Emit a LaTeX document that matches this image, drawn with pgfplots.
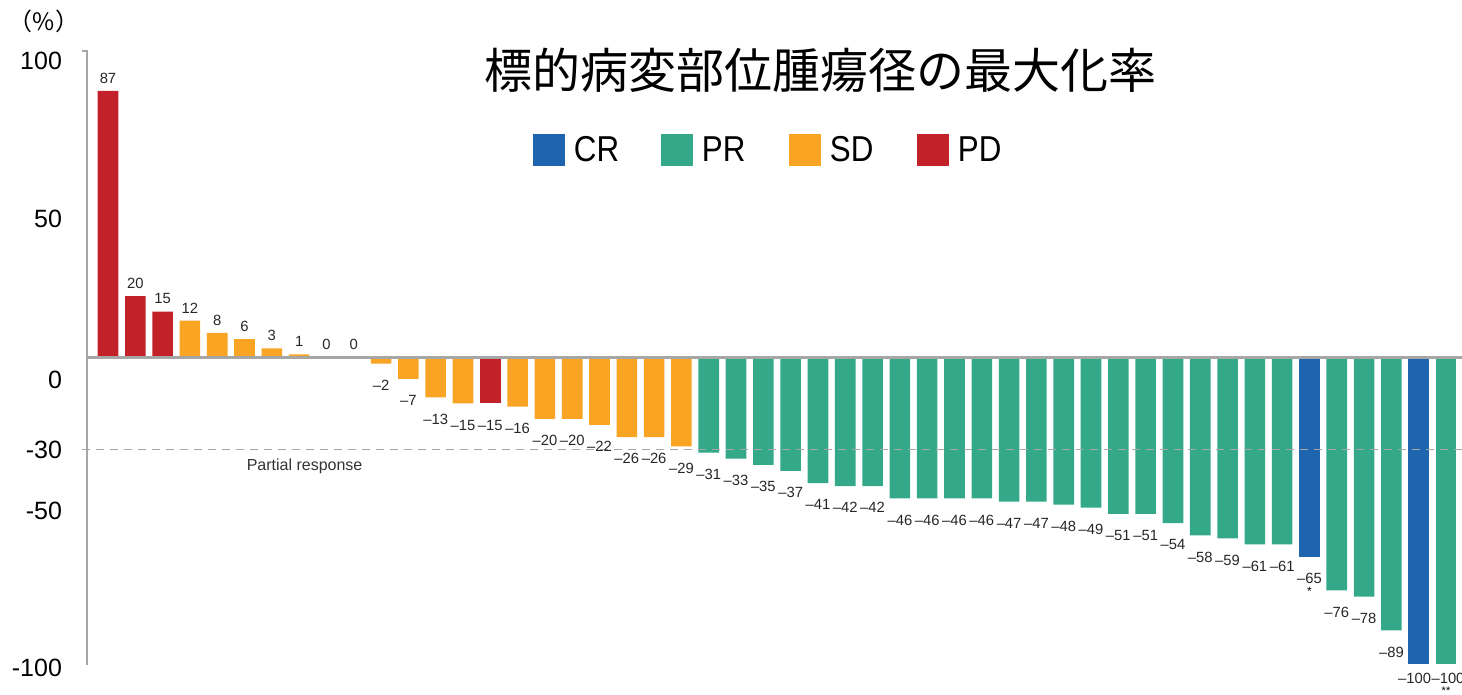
\documentclass[border=0pt]{standalone}
\usepackage{pgfplots}
\pgfplotsset{compat=1.18}
\usepackage{fontspec}
\setmainfont{Liberation Sans}
\newfontfamily\cjk{Noto Sans CJK JP}
\newfontfamily\legfont[FakeStretch=0.87]{Liberation Sans}
\definecolor{crcol}{HTML}{1F64AF}
\definecolor{prcol}{HTML}{33A98A}
\definecolor{sdcol}{HTML}{F9A423}
\definecolor{pdcol}{HTML}{C3212A}
\definecolor{axgray}{HTML}{A6A6A6}
\protected\def\nv#1{–#1}
\newcommand\yl[2]{\raisebox{-#1}[9pt][0pt]{#2}}
\begin{document}
\begin{tikzpicture}
\useasboundingbox (0,0) rectangle (731pt,-347.5pt);
\begin{axis}[
  at={(43.5pt,-332.5pt)}, anchor=south west,
  scale only axis, width=687.5pt, height=307.5pt,
  xmin=-0.769, xmax=49.586, ymin=-100.33, ymax=100.33,
  clip=false,
  axis x line=none, axis y line*=left,
  y axis line style={axgray, line width=1pt, -},
  ytick={-100,-50,-30,0,50,100},
  yticklabels={\yl{2pt}{-100},\yl{0pt}{-50},\yl{0pt}{-30},\yl{11pt}{0},\yl{7pt}{50},\yl{4.5pt}{100}},
  yticklabel style={font=\fontsize{12.5}{14}\selectfont, xshift=-9pt},
  major tick length=0pt,
  extra y ticks={100}, extra y tick labels={},
  extra y tick style={major tick length=2.5pt, tick align=outside, tick style={axgray, line width=1pt}},
  ybar, bar shift=0pt, bar width=10.3pt,
  point meta=explicit symbolic,
  nodes near coords={\pgfplotspointmeta},
  every node near coord/.append style={font=\fontsize{7.4}{9}\selectfont, inner sep=3.6pt, text=black!85},
  neg/.style={nodes near coords align={below}, every node near coord/.append style={yshift=-4.4pt}},
  legend columns=4,
  legend image code/.code={\fill[#1] (0pt,-8pt) rectangle (16pt,8pt);},
  legend style={at={(0.5105,0.837)}, anchor=center, draw=none, fill=none,
    font=\legfont\fontsize{18}{20}\selectfont,
    /tikz/every odd column/.style={column sep=4.5pt},
    nodes={inner sep=0pt, text width=43.5pt, align=left, anchor=west}},
]
\addlegendimage{fill=crcol, draw=none}\addlegendentry{CR}
\addlegendimage{fill=prcol, draw=none}\addlegendentry{PR}
\addlegendimage{fill=sdcol, draw=none}\addlegendentry{SD}
\addlegendimage{fill=pdcol, draw=none}\addlegendentry{PD}

% PD (progressive disease)
\addplot[fill=pdcol, draw=none, forget plot] coordinates {
 (0,87) [87] (1,20) [20] (2,15) [15]};
\addplot[fill=pdcol, draw=none, forget plot, neg] coordinates {
 (14,-15) [\nv{15}]};
% SD (stable disease)
\addplot[fill=sdcol, draw=none, forget plot] coordinates {
 (3,12) [12] (4,8) [8] (5,6) [6] (6,3) [3] (7,1) [1] (8,0) [0] (9,0) [0]};
\addplot[fill=sdcol, draw=none, forget plot, neg] coordinates {
 (10,-2) [\nv{2}] (11,-7) [\nv{7}] (12,-13) [\nv{13}] (13,-15) [\nv{15}]
 (15,-16) [\nv{16}] (16,-20) [\nv{20}] (17,-20) [\nv{20}] (18,-22) [\nv{22}]
 (19,-26) [\nv{26}] (20,-26) [\nv{26}] (21,-29) [\nv{29}]};
% PR (partial response)
\addplot[fill=prcol, draw=none, forget plot, neg] coordinates {
 (22,-31) [\nv{31}] (23,-33) [\nv{33}] (24,-35) [\nv{35}] (25,-37) [\nv{37}]
 (26,-41) [\nv{41}] (27,-42) [\nv{42}] (28,-42) [\nv{42}] (29,-46) [\nv{46}]
 (30,-46) [\nv{46}] (31,-46) [\nv{46}] (32,-46) [\nv{46}] (33,-47) [\nv{47}]
 (34,-47) [\nv{47}] (35,-48) [\nv{48}] (36,-49) [\nv{49}] (37,-51) [\nv{51}]
 (38,-51) [\nv{51}] (39,-54) [\nv{54}] (40,-58) [\nv{58}] (41,-59) [\nv{59}]
 (42,-61) [\nv{61}] (43,-61) [\nv{61}] (45,-76) [\nv{76}] (46,-78) [\nv{78}]
 (47,-89) [\nv{89}]};
\addplot[fill=prcol, draw=none, forget plot, neg, every node near coord/.append style={xshift=1pt, yshift=3.5pt}] coordinates {
 (49,-100) [\nv{100}]};
% CR (complete response)
\addplot[fill=crcol, draw=none, forget plot, neg] coordinates {
 (44,-65) [\nv{65}]};
\addplot[fill=crcol, draw=none, forget plot, neg, every node near coord/.append style={xshift=-2pt, yshift=3.5pt}] coordinates {
 (48,-100) [\nv{100}]};

\addplot[axgray, line width=1.3pt, no markers, sharp plot, nodes near coords={}, forget plot] coordinates {(-0.769,0) (49.586,0)};
\addplot[axgray, line width=0.8pt, dash pattern=on 4pt off 3pt, no markers, sharp plot, nodes near coords={}, forget plot] coordinates {(-0.95,-30) (49.586,-30)};

\node[font=\fontsize{8}{9}\selectfont, text=black!80] at (axis cs:7.2,-35.4) {Partial response};
\node[font=\fontsize{6}{7}\selectfont] at (axis cs:44,-65) [yshift=-17.5pt] {*};
\node[font=\fontsize{5.5}{6}\selectfont, inner sep=0pt] at (axis cs:49,-100) [yshift=-13.5pt] {**};
\end{axis}
\node[font=\cjk\fontsize{24}{26}\selectfont] at (410pt,-35pt) {標的病変部位腫瘍径の最大化率};
\node[font=\cjk\fontsize{12}{14}\selectfont] at (22pt,-10.5pt) {（\%）};
\end{tikzpicture}
\end{document}
